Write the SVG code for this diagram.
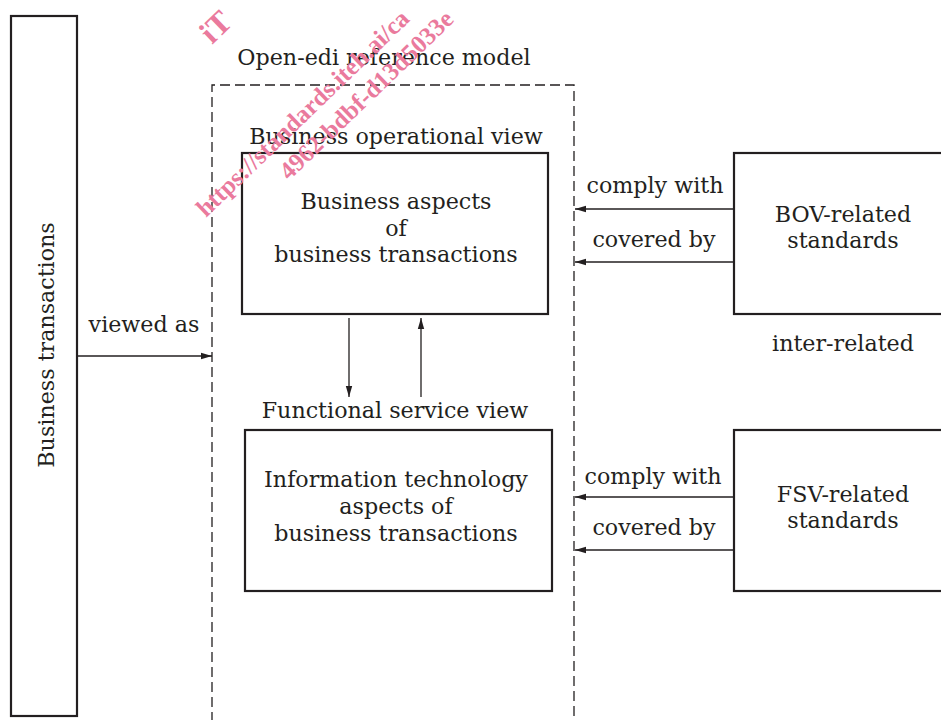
<svg xmlns="http://www.w3.org/2000/svg" width="941" height="720" viewBox="0 0 941 720">
<defs>
<style>
.t{font-family:"DejaVu Serif","Liberation Serif",serif;font-size:22.2px;fill:#231f20;text-anchor:middle}
.box{fill:none;stroke:#231f20;stroke-width:2.2}
.ln{fill:none;stroke:#231f20;stroke-width:1.3}
.dash{fill:none;stroke:#231f20;stroke-width:1.3;stroke-dasharray:10 5}
.wm{font-family:"Liberation Serif",serif;font-weight:bold;fill:#ea7a9d}
</style>
<marker id="ah" markerUnits="userSpaceOnUse" markerWidth="12" markerHeight="8" refX="11" refY="4" orient="auto">
<path d="M0,0.8 L11,4 L0,7.2 Z" fill="#231f20"/>
</marker>
</defs>
<rect width="941" height="720" fill="#ffffff"/>

<g id="business-transactions">
<rect class="box" x="11" y="16" width="66" height="700"/>
<text class="t" transform="translate(54,345) rotate(-90)">Business transactions</text>
</g>

<g id="open-edi-model">
<path class="dash" d="M212,722 L212,85 L574,85 L574,722"/>
<text class="t" x="384" y="65">Open-edi reference model</text>
</g>

<g id="bov-view">
<text class="t" x="396" y="144">Business operational view</text>
<rect class="box" x="242" y="153" width="306" height="161"/>
<text class="t" x="396" y="209">Business aspects</text>
<text class="t" x="396" y="236">of</text>
<text class="t" x="396" y="262">business transactions</text>
</g>

<g id="fsv-view">
<text class="t" x="395" y="418">Functional service view</text>
<rect class="box" x="245" y="430" width="307" height="161"/>
<text class="t" x="396" y="487">Information technology</text>
<text class="t" x="396" y="514">aspects of</text>
<text class="t" x="396" y="541">business transactions</text>
</g>

<g id="bov-standards">
<rect class="box" x="734" y="153" width="230" height="161"/>
<text class="t" x="843" y="222">BOV-related</text>
<text class="t" x="843" y="248">standards</text>
</g>

<g id="fsv-standards">
<rect class="box" x="734" y="430" width="230" height="161"/>
<text class="t" x="843" y="502">FSV-related</text>
<text class="t" x="843" y="528">standards</text>
</g>

<g id="inter-related">
<text class="t" x="843" y="351">inter-related</text>
</g>

<g id="connectors">
<line class="ln" x1="77" y1="356" x2="212" y2="356" marker-end="url(#ah)"/>
<text class="t" x="144" y="332">viewed as</text>
<line class="ln" x1="349" y1="318" x2="349" y2="397" marker-end="url(#ah)"/>
<line class="ln" x1="421" y1="397" x2="421" y2="318" marker-end="url(#ah)"/>
<line class="ln" x1="734" y1="209" x2="575" y2="209" marker-end="url(#ah)"/>
<text class="t" x="655" y="193">comply with</text>
<line class="ln" x1="734" y1="262" x2="575" y2="262" marker-end="url(#ah)"/>
<text class="t" x="654" y="247">covered by</text>
<line class="ln" x1="734" y1="497" x2="575" y2="497" marker-end="url(#ah)"/>
<text class="t" x="653" y="484">comply with</text>
<line class="ln" x1="734" y1="550" x2="575" y2="550" marker-end="url(#ah)"/>
<text class="t" x="654" y="535">covered by</text>
</g>

<g id="watermark">
<text class="wm" font-size="32" transform="translate(212,45) rotate(-44)">iT</text>
<text class="wm" font-size="25" transform="translate(206,218) rotate(-44)">https://standards.iteh.ai/ca</text>
<text class="wm" font-size="25" transform="translate(289,181) rotate(-44)">4962-bdbf-d13d5033e</text>
</g>
</svg>
